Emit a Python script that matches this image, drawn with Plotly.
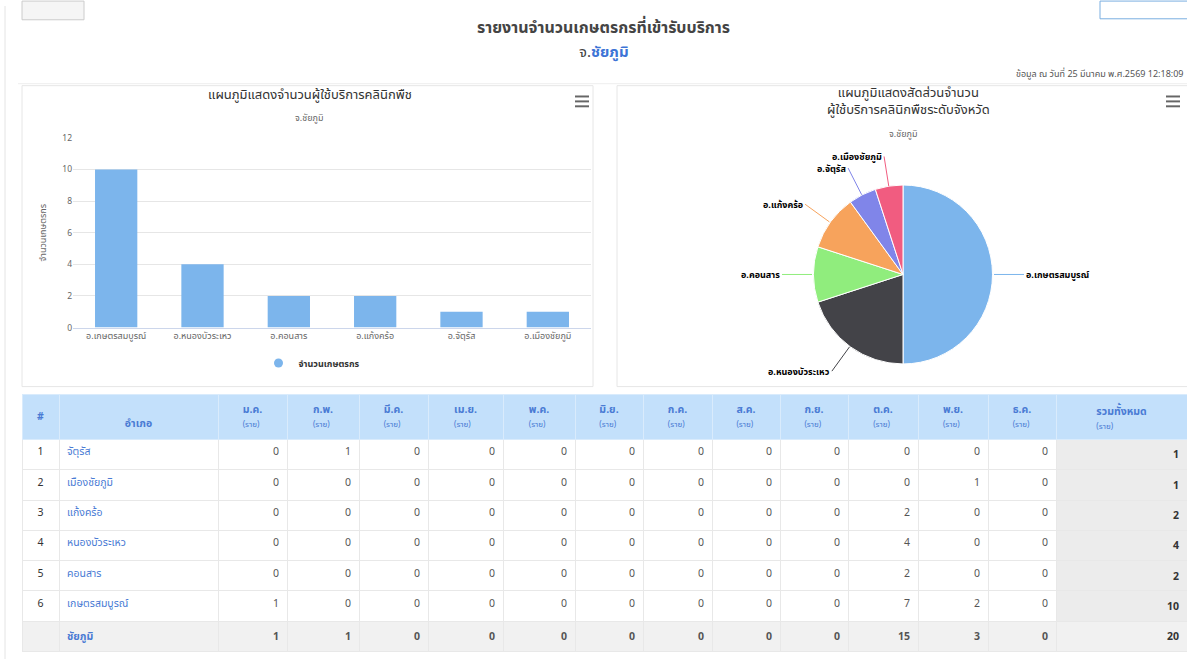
import math
import plotly.graph_objects as go

W, H = 1187, 664

# ---------------- data ----------------
chart_amphoe = ["อ.เกษตรสมบูรณ์", "อ.หนองบัวระเหว", "อ.คอนสาร", "อ.แก้งคร้อ", "อ.จัตุรัส", "อ.เมืองชัยภูมิ"]
chart_farmers = [10, 4, 2, 2, 1, 1]
pie_colors = ["#7cb5ec", "#434348", "#90ed7d", "#f7a35c", "#8085e9", "#f15c80"]

months = ["ม.ค.", "ก.พ.", "มี.ค.", "เม.ย.", "พ.ค.", "มิ.ย.", "ก.ค.", "ส.ค.", "ก.ย.", "ต.ค.", "พ.ย.", "ธ.ค."]
table_amphoe = ["จัตุรัส", "เมืองชัยภูมิ", "แก้งคร้อ", "หนองบัวระเหว", "คอนสาร", "เกษตรสมบูรณ์"]
row_jatturat = [0, 1, 0, 0, 0, 0, 0, 0, 0, 0, 0, 0]
row_mueang = [0, 0, 0, 0, 0, 0, 0, 0, 0, 0, 1, 0]
row_kaengkhro = [0, 0, 0, 0, 0, 0, 0, 0, 0, 2, 0, 0]
row_nongbua = [0, 0, 0, 0, 0, 0, 0, 0, 0, 4, 0, 0]
row_khonsan = [0, 0, 0, 0, 0, 0, 0, 0, 0, 2, 0, 0]
row_kaset = [1, 0, 0, 0, 0, 0, 0, 0, 0, 7, 2, 0]
monthly_rows = [row_jatturat, row_mueang, row_kaengkhro, row_nongbua, row_khonsan, row_kaset]
province = "ชัยภูมิ"

FONT = "Noto Sans Thai UI, Noto Sans Thai, Tahoma, Noto Sans, sans-serif"


def px(x):
    return x / W


def py(y):
    return 1 - y / H


fig = go.Figure()

# ---------------- bar chart ----------------
fig.add_trace(go.Bar(
    x=chart_amphoe, y=chart_farmers, marker_color="#7cb5ec", marker_line_width=0,
    name="จำนวนเกษตรกร", showlegend=False, xaxis="x", yaxis="y",
))
fig.add_trace(go.Scatter(
    x=[None], y=[None], mode="markers", marker=dict(symbol="circle", size=9, color="#7cb5ec"),
    name="<b>จำนวนเกษตรกร</b>", xaxis="x", yaxis="y", showlegend=True,
))

# ---------------- pie chart ----------------
pie_x0, pie_x1, pie_y0, pie_y1 = 812, 994, 182, 364
fig.add_trace(go.Pie(
    labels=chart_amphoe, values=chart_farmers, sort=False, direction="clockwise", rotation=0,
    marker=dict(colors=pie_colors, line=dict(color="white", width=1)),
    textinfo="none", showlegend=False,
    domain=dict(x=[px(pie_x0), px(pie_x1)], y=[py(pie_y1), py(pie_y0)]),
))

# ---------------- table ----------------
n = len(table_amphoe)
row_totals = [sum(r) for r in monthly_rows]
col_totals = [sum(r[i] for r in monthly_rows) for i in range(len(months))]
grand = sum(row_totals)

header_vals = ["<span style='font-size:4px'> </span><br><b>#</b>", "&nbsp;<br><b>อำเภอ</b>"] + [
    f"<b>{m}</b><br><span style='font-size:8px'>(ราย)</span>" for m in months
] + ["<b>รวมทั้งหมด</b><br><span style='font-size:8px'>(ราย)</span>"]

cells = [[str(i + 1) for i in range(n)] + [""],
         table_amphoe + [f"<b>{province}</b>"]]
for mi in range(len(months)):
    cells.append([str(r[mi]) for r in monthly_rows] + [f"<b>{col_totals[mi]}</b>"])
cells.append([f"<b>{t}</b>" for t in row_totals] + [f"<b>{grand}</b>"])

ncol = len(cells)
fills = []
fcolors = []
aligns = []
for c in range(ncol):
    if c == ncol - 1:
        fills.append(["#ececec"] * n + ["#f1f1f1"])
        col = "#333333"
    else:
        fills.append(["white"] * n + ["#f1f1f1"])
        col = "#333333" if c == 0 else ("#4a7bd4" if c == 1 else "#555555")
    fcolors.append([col] * (n + 1))
    aligns.append("center" if c == 0 else ("left" if c == 1 else "right"))

colw = [37, 159, 69, 72, 69, 75, 72, 68, 69, 68, 68, 70, 70, 68, 131]

fig.add_trace(go.Table(
    domain=dict(x=[px(22), 1.0], y=[0.0, py(395)]),
    columnwidth=colw,
    header=dict(values=header_vals, fill_color="#c3e0fb", line_color="#d9ebfc",
                font=dict(family=FONT, size=10.5, color="#4a7bd4"), align="center", height=45),
    cells=dict(values=cells, fill_color=fills, line_color="#e8e8e8",
               font=dict(family=FONT, size=10.5, color=fcolors), align=aligns, height=30.3),
))

# ---------------- pie labels (computed from data) ----------------
cx, cy, r = (pie_x0 + pie_x1) / 2, (pie_y0 + pie_y1) / 2, (pie_x1 - pie_x0) / 2
total = sum(chart_farmers)
annotations = []
cum = 0
for lab, v, col in zip(chart_amphoe, chart_farmers, pie_colors):
    mid = (cum + v / 2) / total * 2 * math.pi
    cum += v
    sx, sy = math.sin(mid), -math.cos(mid)
    ex, ey = cx + r * sx, cy + r * sy
    d = 30
    annotations.append(dict(
        x=px(ex), y=py(ey), xref="paper", yref="paper", text=f"<b>{lab}</b>",
        showarrow=True, arrowhead=0, arrowwidth=1, arrowcolor=col,
        ax=d * sx, ay=d * sy, xanchor="left" if sx > 0.05 else ("right" if sx < -0.05 else "center"),
        yanchor="middle", font=dict(family=FONT, size=9, color="#000"),
    ))

# ---------------- texts ----------------
def txt(x, y, s, size, color, xanchor="center", yanchor="middle"):
    y = y - 0.4 * size  # compensate tall Thai font box
    annotations.append(dict(x=px(x), y=py(y), xref="paper", yref="paper", text=s, showarrow=False,
                            xanchor=xanchor, yanchor=yanchor, font=dict(family=FONT, size=size, color=color)))


txt(604, 27, "<b>รายงานจำนวนเกษตรกรที่เข้ารับบริการ</b>", 16, "#444444")
txt(604, 52, "จ.<b><span style='color:#3d74d6'>ชัยภูมิ</span></b>", 15, "#444444")
txt(1185, 72, "ข้อมูล ณ วันที่ 25 มีนาคม พ.ศ.2569 12:18:09", 9, "#555555", xanchor="right")
txt(310, 95, "แผนภูมิแสดงจำนวนผู้ใช้บริการคลินิกพืช", 13, "#333333")
txt(310, 117, "จ.ชัยภูมิ", 9, "#666666")
txt(908, 101, "แผนภูมิแสดงสัดส่วนจำนวน<br>ผู้ใช้บริการคลินิกพืชระดับจังหวัด", 13, "#333333")
txt(903, 133, "จ.ชัยภูมิ", 9, "#666666")

# ---------------- decorative shapes ----------------
shapes = []


def rect(x0, y0, x1, y1, line="#e6e6e6", fill="rgba(0,0,0,0)", w=1):
    shapes.append(dict(type="rect", xref="paper", yref="paper", x0=px(x0), x1=px(x1), y0=py(y1), y1=py(y0),
                       line=dict(color=line, width=w), fillcolor=fill, layer="below"))


rect(22, 81, 593, 387)
rect(617, 81, 1200, 387)
rect(22, -5, 84, 14, line="#cccccc", fill="#f5f5f5")
rect(1100, -5, 1200, 13, line="#7aaee0")
shapes.append(dict(type="line", xref="paper", yref="paper", x0=px(18), x1=1, y0=py(79), y1=py(79),
                   line=dict(color="#eeeeee", width=1)))
shapes.append(dict(type="line", xref="paper", yref="paper", x0=px(5), x1=px(5), y0=0, y1=1,
                   line=dict(color="#e4e4e4", width=1)))
for hx in (582, 1173):
    for hy in (92, 97, 102):
        shapes.append(dict(type="rect", xref="paper", yref="paper", x0=px(hx - 7), x1=px(hx + 7),
                           y0=py(hy + 1), y1=py(hy - 1), line=dict(width=0), fillcolor="#666666"))

fig.update_layout(
    width=W, height=H, margin=dict(l=0, r=0, t=0, b=0),
    paper_bgcolor="white", plot_bgcolor="white",
    font=dict(family=FONT, color="#333"),
    bargap=0.51,
    xaxis=dict(domain=[px(73), px(591)], anchor="y", showgrid=False, showline=True, linecolor="#ccd6eb",
               ticks="", tickfont=dict(size=9, color="#666666"), fixedrange=True),
    yaxis=dict(domain=[py(327), py(134)], anchor="x", range=[0, 12], dtick=2, showgrid=True,
               gridcolor="#e6e6e6", zeroline=False, showline=False, tickfont=dict(size=8.5, color="#666666"),
               title=dict(text="จำนวนเกษตรกร", font=dict(size=9, color="#666666"), standoff=14),
               fixedrange=True),
    legend=dict(x=px(312), y=py(363), xanchor="center", yanchor="middle", orientation="h",
                font=dict(size=9, color="#333333"), bgcolor="rgba(0,0,0,0)"),
    annotations=annotations, shapes=shapes,
)

fig.write_html("out.html", config={"displayModeBar": False},
               post_script="document.body.style.margin='0px';document.body.style.overflow='hidden';")
